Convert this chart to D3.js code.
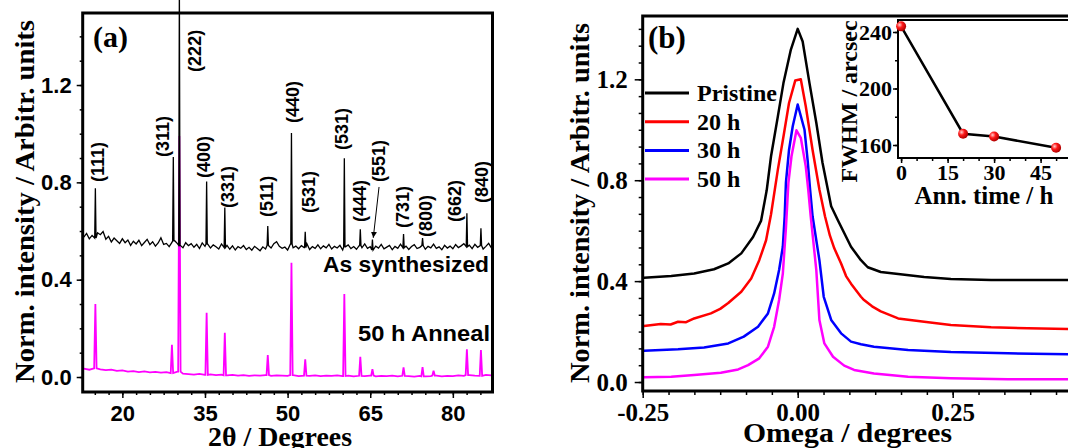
<!DOCTYPE html>
<html>
<head>
<meta charset="utf-8">
<script src="https://cdn.jsdelivr.net/npm/d3@7"></script>
<style>
  body { margin: 0; background: #fff; }
  svg { display: block; }
</style>
</head>
<body>
<div id="chart"></div>
<script>
// ---------- panel (a) : XRD patterns ----------
// baseline of the as-synthesized pattern, 0.5 deg steps from 13 deg
var synthStart = 13, synthStep = 0.5;
var synthBase = [
  0.575, 0.590, 0.568, 0.582, 0.571, 0.593, 0.585, 0.598, 0.566,
  0.578, 0.555, 0.571, 0.560, 0.549, 0.568, 0.552, 0.563, 0.541, 0.558,
  0.547, 0.562, 0.540, 0.553, 0.566, 0.544, 0.556, 0.538, 0.551, 0.572,
  0.545, 0.549, 0.536, 0.553, 0.560, 0.548, 0.541, 0.531, 0.552, 0.540,
  0.548, 0.533, 0.545, 0.528, 0.551, 0.537, 0.546, 0.530, 0.543, 0.535,
  0.526, 0.547, 0.532, 0.541, 0.525, 0.539, 0.522, 0.536, 0.529, 0.540,
  0.524, 0.533, 0.521, 0.537, 0.528, 0.519, 0.535, 0.526, 0.541, 0.530,
  0.548, 0.556, 0.537, 0.529, 0.534, 0.522, 0.546, 0.531, 0.538, 0.527,
  0.540, 0.532, 0.548, 0.524, 0.536, 0.529, 0.543, 0.527, 0.539, 0.531,
  0.545, 0.526, 0.537, 0.530, 0.541, 0.522, 0.535, 0.543, 0.528, 0.536,
  0.525, 0.540, 0.531, 0.547, 0.529, 0.536, 0.522, 0.538, 0.530, 0.545,
  0.527, 0.534, 0.541, 0.523, 0.537, 0.529, 0.546, 0.531, 0.538, 0.524,
  0.536, 0.544, 0.528, 0.533, 0.540, 0.525, 0.537, 0.531, 0.546, 0.529,
  0.535, 0.523, 0.541, 0.530, 0.538, 0.527, 0.544, 0.532, 0.539, 0.548,
  0.536, 0.542, 0.528, 0.545, 0.533, 0.540, 0.526, 0.537, 0.549, 0.531
];
var synthPeakTheta = [15.1, 29.25, 30.35, 35.3, 38.6, 46.4, 50.7, 53.2, 60.3, 63.2, 65.4, 71.05, 74.5, 82.55, 85.1];
var synthPeakTop = [0.776, 0.904, 1.62, 0.803, 0.697, 0.621, 1.003, 0.597, 0.899, 0.607, 0.565, 0.588, 0.571, 0.673, 0.611];

// baseline of the 50 h annealed pattern, 1 deg steps from 13 deg
var annealStart = 13, annealStep = 1;
var annealBase = [
  0.034, 0.030, 0.036, 0.031, 0.028,
  0.030, 0.025, 0.027, 0.022, 0.024, 0.020, 0.023, 0.019, 0.021, 0.018,
  0.020, 0.016, 0.022, 0.014, 0.012, 0.010, 0.013, 0.009, 0.011, 0.008,
  0.010, 0.007, 0.009, 0.006, 0.008, 0.005, 0.007, 0.006, 0.008, 0.005,
  0.007, 0.006, 0.005, 0.008, 0.004, 0.006, 0.005, 0.007, 0.004, 0.006,
  0.005, 0.007, 0.004, 0.006, 0.003, 0.005, 0.004, 0.006, 0.003, 0.005,
  0.004, 0.006, 0.003, 0.005, 0.004, 0.002, 0.005, 0.003, 0.004, 0.006,
  0.003, 0.005, 0.004, 0.007, 0.005, 0.008, 0.006, 0.005, 0.009, 0.007
];
var annealPeakTheta = [15.1, 29.0, 30.35, 35.3, 38.6, 46.4, 50.7, 53.2, 60.3, 63.2, 65.4, 71.05, 74.5, 76.5, 82.55, 85.1];
var annealPeakTop = [0.300, 0.132, 0.990, 0.264, 0.182, 0.090, 0.470, 0.073, 0.341, 0.083, 0.032, 0.040, 0.041, 0.026, 0.114, 0.111];

// (hkl) labels: text, 2theta and level of the lower end of the label
var hklText = ["(111)", "(311)", "(222)", "(400)", "(331)", "(511)", "(440)", "(531)", "(531)", "(444)", "(551)", "(731)", "(800)", "(662)", "(840)"];
var hklTheta = [15.46, 27.31, 33.12, 34.75, 39.11, 46.19, 50.96, 53.87, 59.75, 63.07, 66.57, 70.78, 75.10, 80.22, 85.26];
var hklLevel = [0.801, 0.904, 1.254, 0.818, 0.695, 0.658, 1.044, 0.674, 0.933, 0.637, 0.801, 0.612, 0.575, 0.637, 0.715];
var arrowFrom = [66.6, 0.781];
var arrowTo = [65.55, 0.572];

var xTicksA = [20, 35, 50, 65, 80];
var yTicksA = [0.0, 0.4, 0.8, 1.2];

// ---------- panel (b) : rocking curves ----------
var seriesNames = ["Pristine", "20 h", "30 h", "50 h"];
var seriesColors = ["#000000", "#ff0000", "#0000ff", "#ff00ff"];

var pristineOmega = [-0.248, -0.204, -0.167, -0.135, -0.112, -0.091, -0.072, -0.059, -0.050, -0.043, -0.032, -0.023, -0.011, 0.000, 0.008, 0.019, 0.030, 0.040, 0.054, 0.065, 0.086, 0.102, 0.113, 0.134, 0.162, 0.204, 0.247, 0.312, 0.365, 0.436];
var pristineInt = [0.413, 0.420, 0.430, 0.447, 0.470, 0.510, 0.575, 0.640, 0.760, 0.895, 1.053, 1.185, 1.318, 1.400, 1.350, 1.185, 1.028, 0.869, 0.697, 0.640, 0.536, 0.483, 0.455, 0.436, 0.428, 0.416, 0.408, 0.404, 0.404, 0.404];

var h20Omega = [-0.248, -0.221, -0.205, -0.193, -0.180, -0.167, -0.140, -0.125, -0.112, -0.091, -0.075, -0.062, -0.051, -0.043, -0.032, -0.022, -0.014, -0.004, 0.005, 0.013, 0.024, 0.035, 0.044, 0.052, 0.059, 0.070, 0.078, 0.086, 0.102, 0.107, 0.120, 0.134, 0.162, 0.204, 0.247, 0.312, 0.371, 0.436];
var h20Int = [0.222, 0.230, 0.228, 0.239, 0.237, 0.252, 0.272, 0.290, 0.313, 0.358, 0.410, 0.483, 0.562, 0.665, 0.842, 0.987, 1.106, 1.195, 1.200, 1.093, 0.920, 0.763, 0.657, 0.580, 0.530, 0.470, 0.420, 0.390, 0.338, 0.325, 0.300, 0.280, 0.252, 0.239, 0.226, 0.217, 0.213, 0.210];

var h30Omega = [-0.248, -0.193, -0.151, -0.112, -0.087, -0.064, -0.048, -0.038, -0.030, -0.024, -0.021, -0.019, -0.014, -0.008, 0.000, 0.011, 0.016, 0.020, 0.024, 0.035, 0.042, 0.054, 0.070, 0.086, 0.102, 0.123, 0.178, 0.247, 0.339, 0.436];
var h30Int = [0.124, 0.130, 0.137, 0.153, 0.180, 0.219, 0.272, 0.351, 0.444, 0.536, 0.657, 0.790, 0.920, 1.014, 1.100, 1.000, 0.880, 0.763, 0.657, 0.483, 0.338, 0.246, 0.193, 0.160, 0.150, 0.140, 0.127, 0.119, 0.114, 0.110];

var h50Omega = [-0.248, -0.204, -0.167, -0.124, -0.096, -0.080, -0.062, -0.048, -0.038, -0.030, -0.024, -0.019, -0.015, -0.010, -0.002, 0.005, 0.013, 0.017, 0.021, 0.030, 0.035, 0.043, 0.057, 0.075, 0.091, 0.123, 0.178, 0.247, 0.339, 0.436];
var h50Int = [0.019, 0.021, 0.028, 0.037, 0.050, 0.067, 0.094, 0.140, 0.219, 0.325, 0.430, 0.610, 0.790, 0.895, 0.998, 0.968, 0.855, 0.763, 0.657, 0.444, 0.246, 0.153, 0.100, 0.065, 0.048, 0.034, 0.021, 0.015, 0.011, 0.011];

var xTicksB = [-0.25, 0.00, 0.25];
var yTicksB = [0.0, 0.4, 0.8, 1.2];

// inset : FWHM vs annealing time
var annTime = [0, 20, 30, 50];
var fwhm = [244, 168, 166, 158];
var xTicksInset = [0, 15, 30, 45];
var yTicksInset = [160, 200, 240];

// ===========================================
var sans = "'Liberation Sans', Arial, sans-serif";
var serif = "'Liberation Serif', 'Times New Roman', serif";

var svg = d3.select("#chart")
  .append("svg")
  .attr("width", 1068)
  .attr("height", 448);

var defs = svg.append("defs");
var grad = defs.append("radialGradient")
  .attr("id", "ball")
  .attr("cx", "35%").attr("cy", "35%").attr("r", "65%");
grad.append("stop").attr("offset", "0%").attr("stop-color", "#ffd0d0");
grad.append("stop").attr("offset", "45%").attr("stop-color", "#ff1a1a");
grad.append("stop").attr("offset", "100%").attr("stop-color", "#b00000");

var marker = defs.append("marker")
  .attr("id", "arrow")
  .attr("viewBox", "0 0 10 10")
  .attr("refX", 10).attr("refY", 5)
  .attr("markerWidth", 6).attr("markerHeight", 6)
  .attr("markerUnits", "userSpaceOnUse")
  .attr("orient", "auto");
marker.append("path").attr("d", "M0,0 L10,5 L0,10 z").attr("fill", "#000");

// style an axis group: bold text, no domain line
function styleAxis(g, family, size) {
  g.select(".domain").remove();
  g.selectAll("line").attr("stroke", "#000").attr("stroke-width", 1.5);
  g.selectAll("text")
    .attr("font-family", family)
    .attr("font-weight", "bold")
    .attr("font-size", size)
    .attr("fill", "#000");
}

// Step 1: panel (a) scales
// ==============================
var xA = d3.scaleLinear().domain([12.8, 87.2]).range([82.7, 492.5]);
var yA = d3.scaleLinear().domain([-0.0616, 1.496]).range([392, 13]);

// Step 2: panel (a) axes (minor + major)
// ==============================
svg.append("g")
  .attr("transform", "translate(82.7,0)")
  .call(d3.axisLeft(yA).tickValues(d3.range(0, 1.45, 0.1)).tickSize(3).tickFormat(""))
  .call(styleAxis, sans, 22);
svg.append("g")
  .attr("transform", "translate(82.7,0)")
  .call(d3.axisLeft(yA).tickValues(yTicksA).tickSize(6).tickPadding(5).tickFormat(d3.format(".1f")))
  .call(styleAxis, sans, 22);
svg.append("g")
  .attr("transform", "translate(0,392)")
  .call(d3.axisBottom(xA).tickValues(d3.range(15, 87.5, 2.5)).tickSize(3).tickFormat(""))
  .call(styleAxis, sans, 22);
svg.append("g")
  .attr("transform", "translate(0,392)")
  .call(d3.axisBottom(xA).tickValues(xTicksA).tickSize(6).tickPadding(7))
  .call(styleAxis, sans, 22);

// Step 3: build the patterns from baseline + read peaks
// ==============================
function buildPattern(start, step, base, peakPos, peakTop, half) {
  var pts = base.map(function(v, i) { return [start + i * step, v]; });
  peakPos.forEach(function(p, i) {
    var k = Math.max(0, Math.min(base.length - 1, Math.round((p - start) / step)));
    var b = base[k];
    pts = pts.filter(function(d) { return Math.abs(d[0] - p) >= half; });
    pts.push([p - half, b], [p, peakTop[i]], [p + half, b]);
  });
  pts.sort(function(a, b) { return a[0] - b[0]; });
  return pts;
}

var lineA = d3.line()
  .x(function(d) { return xA(d[0]); })
  .y(function(d) { return yA(d[1]); });

svg.append("path")
  .datum(buildPattern(annealStart, annealStep, annealBase, annealPeakTheta, annealPeakTop, 0.22))
  .attr("d", lineA)
  .attr("fill", "none")
  .attr("stroke", "#ff00ff")
  .attr("stroke-width", 1.8);

svg.append("path")
  .datum(buildPattern(synthStart, synthStep, synthBase, synthPeakTheta, synthPeakTop, 0.12))
  .attr("d", lineA)
  .attr("fill", "none")
  .attr("stroke", "#000")
  .attr("stroke-width", 1.3);

// frame of panel (a)
svg.append("rect")
  .attr("x", 82.7).attr("y", 13)
  .attr("width", 492.5 - 82.7).attr("height", 392 - 13)
  .attr("fill", "none")
  .attr("stroke", "#000")
  .attr("stroke-width", 3);

// Step 4: hkl labels
// ==============================
svg.selectAll(".hkl")
  .data(hklText)
  .enter()
  .append("text")
  .attr("class", "hkl")
  .attr("transform", function(d, i) {
    return "translate(" + xA(hklTheta[i]) + "," + yA(hklLevel[i]) + ") rotate(-90)";
  })
  .attr("dy", "0.36em")
  .attr("font-family", sans)
  .attr("font-weight", "bold")
  .attr("font-size", 18)
  .text(function(d) { return d; });

svg.append("line")
  .attr("x1", xA(arrowFrom[0])).attr("y1", yA(arrowFrom[1]))
  .attr("x2", xA(arrowTo[0])).attr("y2", yA(arrowTo[1]))
  .attr("stroke", "#000")
  .attr("stroke-width", 1)
  .attr("marker-end", "url(#arrow)");

svg.append("text")
  .attr("x", 323).attr("y", 272)
  .attr("textLength", 166).attr("lengthAdjust", "spacingAndGlyphs")
  .attr("font-family", sans).attr("font-weight", "bold").attr("font-size", 22)
  .text("As synthesized");

svg.append("text")
  .attr("x", 358).attr("y", 341)
  .attr("textLength", 132).attr("lengthAdjust", "spacingAndGlyphs")
  .attr("font-family", sans).attr("font-weight", "bold").attr("font-size", 22)
  .text("50 h Anneal");

svg.append("text")
  .attr("x", 93).attr("y", 47)
  .attr("font-family", serif).attr("font-weight", "bold").attr("font-size", 30)
  .text("(a)");

// axis titles (a)
svg.append("text")
  .attr("transform", "translate(34,201.5) rotate(-90)")
  .attr("text-anchor", "middle")
  .attr("textLength", 363).attr("lengthAdjust", "spacingAndGlyphs")
  .attr("font-family", serif).attr("font-weight", "bold").attr("font-size", 28)
  .text("Norm. intensity / Arbitr. units");

svg.append("text")
  .attr("x", 280).attr("y", 446)
  .attr("text-anchor", "middle")
  .attr("textLength", 144).attr("lengthAdjust", "spacingAndGlyphs")
  .attr("font-family", serif).attr("font-weight", "bold").attr("font-size", 27)
  .text("2θ / Degrees");

// Step 5: panel (b) scales and axes
// ==============================
var xB = d3.scaleLinear().domain([-0.25, 0.45]).range([642.7, 1076.7]);
var yB = d3.scaleLinear().domain([-0.0356, 1.451]).range([391, 16]);

svg.append("g")
  .attr("transform", "translate(642.7,0)")
  .call(d3.axisLeft(yB).tickValues(d3.range(0, 1.44, 0.4 / 6)).tickSize(4).tickFormat(""))
  .call(styleAxis, serif, 25);
svg.append("g")
  .attr("transform", "translate(642.7,0)")
  .call(d3.axisLeft(yB).tickValues(yTicksB).tickSize(8).tickPadding(7).tickFormat(d3.format(".1f")))
  .call(styleAxis, serif, 25);
svg.append("g")
  .attr("transform", "translate(0,391)")
  .call(d3.axisBottom(xB).tickValues(d3.range(-0.25, 0.45, 0.25 / 6)).tickSize(4).tickFormat(""))
  .call(styleAxis, serif, 25);
svg.append("g")
  .attr("transform", "translate(0,391)")
  .call(d3.axisBottom(xB).tickValues(xTicksB).tickSize(7).tickPadding(5)
    .tickFormat(function(d) { return d.toFixed(2); }))
  .call(styleAxis, serif, 25);

// Step 6: rocking curves
// ==============================
var curves = [
  { omega: pristineOmega, value: pristineInt },
  { omega: h20Omega, value: h20Int },
  { omega: h30Omega, value: h30Int },
  { omega: h50Omega, value: h50Int }
];

var lineB = d3.line()
  .x(function(d) { return xB(d[0]); })
  .y(function(d) { return yB(d[1]); });

curves.forEach(function(c, i) {
  svg.append("path")
    .datum(c.omega.map(function(o, j) { return [o, c.value[j]]; }))
    .attr("d", lineB)
    .attr("fill", "none")
    .attr("stroke", seriesColors[i])
    .attr("stroke-width", 2.5)
    .attr("stroke-linejoin", "round");
});

svg.append("rect")
  .attr("x", 642.7).attr("y", 16)
  .attr("width", 500).attr("height", 391 - 16)
  .attr("fill", "none")
  .attr("stroke", "#000")
  .attr("stroke-width", 3);

// legend
var legend = svg.selectAll(".legend")
  .data(seriesNames)
  .enter()
  .append("g")
  .attr("class", "legend")
  .attr("transform", function(d, i) { return "translate(645," + (93 + i * 28.7) + ")"; });
legend.append("line")
  .attr("x1", 0).attr("x2", 44)
  .attr("stroke", function(d, i) { return seriesColors[i]; })
  .attr("stroke-width", 3);
legend.append("text")
  .attr("x", 52).attr("y", 8)
  .attr("font-family", serif).attr("font-weight", "bold").attr("font-size", 24)
  .text(function(d) { return d; });

svg.append("text")
  .attr("x", 648).attr("y", 48)
  .attr("font-family", serif).attr("font-weight", "bold").attr("font-size", 31)
  .text("(b)");

svg.append("text")
  .attr("transform", "translate(589,203) rotate(-90)")
  .attr("text-anchor", "middle")
  .attr("textLength", 360).attr("lengthAdjust", "spacingAndGlyphs")
  .attr("font-family", serif).attr("font-weight", "bold").attr("font-size", 28)
  .text("Norm. intensity / Arbitr. units");

svg.append("text")
  .attr("x", 847.5).attr("y", 442)
  .attr("text-anchor", "middle")
  .attr("textLength", 209).attr("lengthAdjust", "spacingAndGlyphs")
  .attr("font-family", serif).attr("font-weight", "bold").attr("font-size", 28)
  .text("Omega / degrees");

// Step 7: inset
// ==============================
var xI = d3.scaleLinear().domain([-1, 56]).range([898, 1074.7]);
var yI = d3.scaleLinear().domain([150.8, 248.5]).range([158, 20]);

svg.append("rect")
  .attr("x", 898).attr("y", 20)
  .attr("width", 200).attr("height", 138)
  .attr("fill", "#fff")
  .attr("stroke", "#000")
  .attr("stroke-width", 2);

svg.append("g")
  .attr("transform", "translate(898,0)")
  .call(d3.axisLeft(yI).tickValues(d3.range(160, 241, 20)).tickSize(3).tickFormat(""))
  .call(styleAxis, serif, 22);
svg.append("g")
  .attr("transform", "translate(898,0)")
  .call(d3.axisLeft(yI).tickValues(yTicksInset).tickSize(5).tickPadding(1))
  .call(styleAxis, serif, 22);
svg.append("g")
  .attr("transform", "translate(0,158)")
  .call(d3.axisBottom(xI).tickValues(d3.range(0, 56, 5)).tickSize(3).tickFormat(""))
  .call(styleAxis, serif, 22);
svg.append("g")
  .attr("transform", "translate(0,158)")
  .call(d3.axisBottom(xI).tickValues(xTicksInset).tickSize(5).tickPadding(1.5))
  .call(styleAxis, serif, 22);

svg.append("path")
  .datum(annTime.map(function(t, i) { return [t, fwhm[i]]; }))
  .attr("d", d3.line()
    .x(function(d) { return xI(d[0]); })
    .y(function(d) { return yI(d[1]); }))
  .attr("fill", "none")
  .attr("stroke", "#000")
  .attr("stroke-width", 2.5);

svg.selectAll(".dot")
  .data(annTime)
  .enter()
  .append("circle")
  .attr("class", "dot")
  .attr("cx", function(d) { return xI(d); })
  .attr("cy", function(d, i) { return yI(fwhm[i]); })
  .attr("r", 5)
  .attr("fill", "url(#ball)");

svg.append("text")
  .attr("transform", "translate(857,101.5) rotate(-90)")
  .attr("text-anchor", "middle")
  .attr("font-family", serif).attr("font-weight", "bold").attr("font-size", 24)
  .text("FWHM / arcsec");

svg.append("text")
  .attr("x", 984).attr("y", 204)
  .attr("text-anchor", "middle")
  .attr("font-family", serif).attr("font-weight", "bold").attr("font-size", 25)
  .text("Ann. time / h");
</script>
</body>
</html>
